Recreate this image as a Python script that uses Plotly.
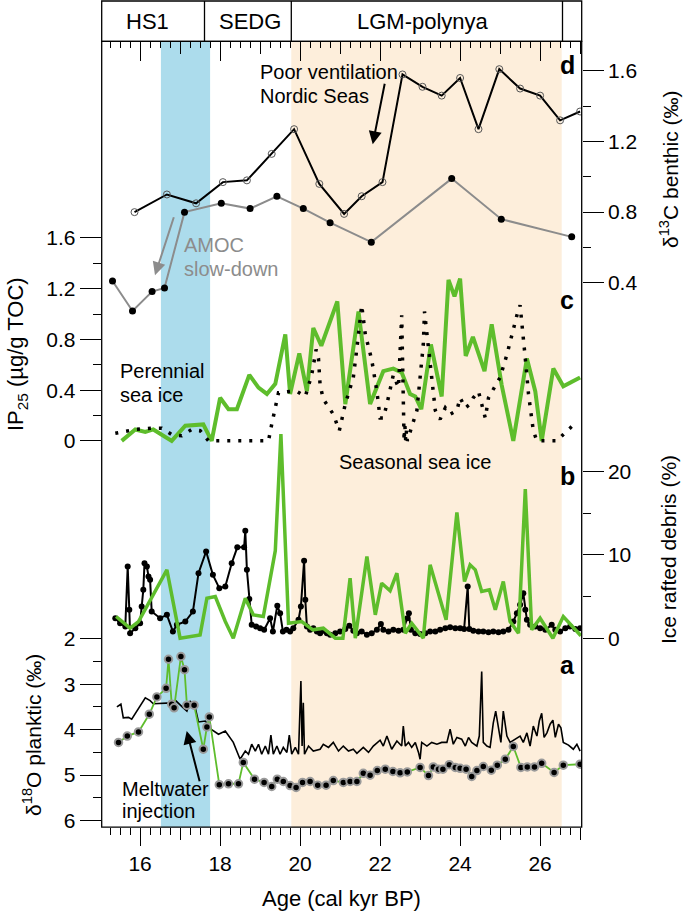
import plotly.graph_objects as go

W, H = 685, 914
FONT = "Liberation Sans, Arial, Helvetica, sans-serif"
GREEN = "#5ebd2c"

def px(x):
    return x / W

def py(y):
    return 1 - y / H

# ---------------- data ----------------
# (d) delta13C benthic, black line with open circles
d13c_age = [15.86, 16.67, 17.40, 18.07, 18.67, 19.29, 19.85, 20.48, 21.10, 21.54, 22.06,
            22.56, 23.06, 23.54, 24.00, 24.46, 24.98, 25.50, 26.00, 26.50, 27.00]
d13c_val = [0.80, 0.90, 0.85, 0.97, 0.98, 1.13, 1.27, 0.96, 0.79, 0.89, 0.97,
            1.58, 1.51, 1.46, 1.56, 1.27, 1.61, 1.50, 1.46, 1.32, 1.37]

# (d) delta13C benthic second record, gray line with filled dots
d13c2_age = [15.31, 15.81, 16.30, 16.61, 17.11, 18.03, 18.75, 19.42, 20.08, 20.75, 21.78,
             23.79, 25.03, 26.79]
d13c2_val = [0.41, 0.24, 0.35, 0.37, 0.80, 0.85, 0.82, 0.89, 0.82, 0.74, 0.63,
             0.99, 0.76, 0.66]

# (c) IP25 green
ip25g_age = [15.54, 15.88, 16.13, 16.33, 16.79, 17.13, 17.58, 17.79, 18.00, 18.21, 18.42,
             18.73, 18.96, 19.17, 19.38, 19.63, 19.75, 19.98, 20.17, 20.33, 20.53, 20.93,
             21.13, 21.46, 21.75, 22.08, 22.33, 22.54, 22.75, 22.88, 23.03, 23.27, 23.54,
             23.71, 23.86, 24.00, 24.14, 24.32, 24.61, 24.79, 25.04, 25.33, 25.67, 25.88,
             26.04, 26.33, 26.58, 27.00]
ip25g_val = [0.00, 0.09, 0.07, 0.09, 0.00, 0.12, 0.13, 0.00, 0.34, 0.25, 0.25,
             0.52, 0.42, 0.37, 0.45, 0.84, 0.37, 0.69, 0.39, 0.89, 0.75, 1.10,
             0.29, 1.02, 0.29, 0.55, 0.57, 0.54, 0.37, 0.35, 0.25, 0.76, 0.35,
             1.27, 1.14, 1.28, 0.67, 0.82, 0.55, 0.92, 0.44, 0.00, 0.65, 0.39,
             0.00, 0.57, 0.43, 0.50]

# (c) IP25 dotted black
ip25d_age = [15.38, 15.88, 16.29, 16.54, 16.79, 17.04, 17.29, 17.50, 17.71, 19.21, 19.29,
             19.38, 19.46, 19.75, 19.92, 20.13, 20.29, 20.40, 20.46, 20.50, 20.58, 20.83,
             20.98, 21.13, 21.33, 21.42, 21.54, 21.63, 21.79, 21.92, 22.00, 22.08, 22.17,
             22.33, 22.46, 22.54, 22.55, 22.56, 22.57, 22.58, 22.60, 22.62, 22.64, 22.66,
             22.68, 22.92, 23.00, 23.08, 23.11, 23.15, 23.21, 23.29, 23.38, 23.50, 23.63,
             23.75, 23.92, 24.00, 24.13, 24.25, 24.33, 24.46, 24.54, 24.63, 24.71, 24.83,
             25.00, 25.17, 25.29, 25.42, 25.50, 25.56, 25.63, 25.71, 25.83, 25.92, 26.42,
             26.58, 26.88]
ip25d_val = [0.06, 0.09, 0.10, 0.10, 0.05, 0.04, 0.09, 0.08, 0.00, 0.00, 0.13,
             0.26, 0.38, 0.39, 0.39, 0.35, 0.52, 0.72, 0.65, 0.44, 0.33, 0.21,
             0.08, 0.29, 0.50, 0.73, 1.07, 0.84, 0.64, 0.39, 0.18, 0.18, 0.29,
             0.52, 0.42, 0.99, 0.75, 0.50, 0.25, 0.05, 0.00, 0.12, 0.00, 0.08,
             0.00, 0.24, 0.50, 0.76, 1.02, 0.89, 0.76, 0.50, 0.24, 0.17, 0.26,
             0.21, 0.24, 0.34, 0.26, 0.29, 0.34, 0.39, 0.29, 0.18, 0.34, 0.41,
             0.50, 0.68, 0.84, 0.99, 1.07, 0.89, 0.65, 0.37, 0.08, 0.00, 0.00,
             0.05, 0.14]

# (b) Ice rafted debris, green
irdg_age = [15.40, 15.75, 15.96, 16.67, 17.00, 17.50, 17.67, 17.88, 18.13, 18.33, 18.63,
            18.83, 19.08, 19.38, 19.52, 19.71, 20.04, 20.32, 20.58, 20.88, 21.07, 21.25,
            21.38, 21.67, 21.88, 22.04, 22.25, 22.42, 22.63, 22.79, 23.08, 23.25, 23.65,
            23.92, 24.11, 24.25, 24.38, 24.54, 24.73, 24.88, 25.08, 25.25, 25.46, 25.63,
            25.79, 26.00, 26.32, 26.58, 27.02]
irdg_val = [2.6, 1.2, 2.0, 8.2, 0.0, 0.4, 4.8, 5.0, 2.0, 0.0, 4.8,
            2.8, 2.6, 10.5, 24.5, 1.8, 2.0, 1.0, 1.2, 0.0, 0.0, 7.2,
            0.0, 9.8, 2.8, 6.6, 5.7, 7.8, 0.6, 1.8, 0.0, 8.8, 2.2,
            15.1, 6.8, 8.8, 8.2, 5.6, 5.8, 3.4, 6.8, 2.0, 0.6, 17.9,
            1.0, 2.4, 0.0, 2.6, 0.3]

# (b) Ice rafted debris, black with dots
irdb_age = [15.38, 15.50, 15.63, 15.69, 15.73, 15.75, 15.88, 16.00, 16.04, 16.08, 16.11,
            16.17, 16.21, 16.25, 16.29, 16.50, 16.67, 16.82, 16.92, 17.13, 17.32, 17.46,
            17.65, 17.82, 17.98, 18.13, 18.29, 18.43, 18.60, 18.63, 18.67, 18.73, 18.79,
            18.90, 19.00, 19.10, 19.25, 19.32, 19.43, 19.50, 19.57, 19.66, 19.75, 19.83,
            19.96, 20.02, 20.10, 20.13, 20.17, 20.25, 20.33, 20.42, 20.50, 20.58, 20.67,
            20.75, 20.88, 21.00, 21.13, 21.23, 21.33, 21.42, 21.54, 21.67, 21.79, 21.92,
            22.02, 22.08, 22.21, 22.33, 22.46, 22.58, 22.68, 22.72, 22.77, 22.88, 23.00,
            23.13, 23.25, 23.38, 23.50, 23.63, 23.75, 23.88, 24.00, 24.10, 24.19, 24.23,
            24.33, 24.46, 24.58, 24.71, 24.83, 24.96, 25.08, 25.21, 25.33, 25.42, 25.50,
            25.58, 25.63, 25.67, 25.75, 25.88, 26.00, 26.13, 26.29, 26.38, 26.50, 26.63,
            26.75, 26.88, 27.00]
irdb_val = [2.4, 1.8, 1.4, 8.6, 3.4, 0.6, 1.2, 1.8, 3.8, 5.8, 9.0,
            8.6, 7.4, 7.0, 3.2, 2.4, 2.8, 0.8, 1.6, 2.0, 3.2, 7.8,
            10.4, 7.6, 6.0, 6.2, 9.0, 10.9, 10.9, 12.9, 8.2, 4.7, 1.6,
            1.4, 1.2, 1.0, 2.4, 0.8, 3.9, 3.0, 0.8, 1.0, 0.8, 1.2,
            2.2, 3.8, 9.3, 4.6, 1.4, 1.0, 1.2, 0.8, 0.6, 0.9, 0.6,
            0.4, 0.6, 0.8, 1.1, 1.5, 0.9, 0.6, 0.8, 0.4, 0.6, 1.0,
            1.7, 1.0, 0.8, 1.0, 0.9, 1.0, 2.4, 3.0, 1.0, 0.6, 0.5,
            0.6, 0.8, 0.8, 1.0, 1.2, 1.3, 1.2, 1.2, 1.1, 6.2, 1.1,
            0.9, 0.8, 0.8, 0.7, 0.8, 0.7, 0.8, 1.0, 2.0, 3.0, 4.0,
            5.4, 3.4, 2.2, 1.6, 1.4, 1.2, 1.0, 1.6, 1.0, 0.8, 1.2,
            1.4, 1.1, 1.2]

# (a) delta18O planktic, black line
d18ob_age = [15.42, 15.52, 15.58, 15.71, 15.79, 15.92, 16.13, 16.25, 16.33, 16.79, 16.90,
             17.08, 17.17, 17.25, 17.38, 17.46, 17.63, 17.79, 17.96, 18.13, 18.33, 18.50,
             18.63, 18.71, 18.79, 18.88, 18.96, 19.04, 19.13, 19.21, 19.27, 19.33, 19.42,
             19.50, 19.58, 19.67, 19.73, 19.79, 19.88, 19.96, 20.02, 20.05, 20.08, 20.11,
             20.21, 20.33, 20.50, 20.58, 20.71, 20.83, 20.96, 21.08, 21.21, 21.33, 21.42,
             21.58, 21.71, 21.83, 22.00, 22.08, 22.17, 22.29, 22.42, 22.54, 22.58, 22.63,
             22.71, 22.79, 22.88, 22.96, 23.00, 23.04, 23.17, 23.29, 23.42, 23.54, 23.67,
             23.75, 23.83, 23.92, 24.04, 24.13, 24.21, 24.29, 24.42, 24.48, 24.54, 24.58,
             24.67, 24.75, 24.83, 24.89, 24.96, 25.02, 25.08, 25.17, 25.25, 25.38, 25.50,
             25.58, 25.67, 25.75, 25.83, 25.92, 25.98, 26.04, 26.10, 26.17, 26.25, 26.32,
             26.38, 26.46, 26.52, 26.58, 26.71, 26.83, 26.92, 27.00]
d18ob_val = [3.50, 3.44, 3.74, 3.73, 3.77, 3.59, 3.30, 3.36, 3.43, 3.41, 3.37,
             3.52, 3.59, 3.37, 3.52, 3.83, 3.81, 4.00, 4.10, 4.03, 4.28, 4.65,
             4.47, 4.54, 4.32, 4.47, 4.32, 4.54, 4.36, 4.54, 4.12, 4.54, 4.36,
             4.54, 4.39, 4.50, 4.12, 4.54, 4.39, 4.54, 2.93, 4.36, 3.41, 4.54,
             4.36, 4.47, 4.43, 4.32, 4.39, 4.28, 4.47, 4.36, 4.47, 4.43, 4.52,
             4.39, 4.50, 4.36, 4.23, 4.36, 4.14, 4.43, 4.25, 4.36, 3.92, 4.36,
             4.28, 4.39, 4.28, 4.50, 4.65, 4.28, 4.36, 4.28, 4.32, 4.28, 4.28,
             3.99, 4.32, 4.17, 4.21, 4.36, 4.17, 4.28, 4.36, 4.14, 2.72, 4.28,
             4.36, 4.39, 3.85, 3.59, 3.99, 4.28, 3.59, 4.14, 4.28, 4.21, 4.14,
             4.28, 4.07, 4.36, 3.92, 4.14, 3.81, 3.64, 4.17, 4.07, 3.88, 3.79,
             4.17, 3.88, 3.96, 4.28, 4.34, 4.43, 4.32, 4.47]

# (a) delta18O planktic, green line with dots
d18og_age = [15.46, 15.68, 15.96, 16.23, 16.42, 16.65, 16.71, 16.79, 16.85, 17.02, 17.11,
             17.17, 17.35, 17.58, 17.67, 17.73, 17.98, 18.21, 18.46, 18.58, 18.86, 19.10,
             19.29, 19.43, 19.58, 19.75, 19.90, 20.06, 20.25, 20.44, 20.65, 20.83, 21.08,
             21.25, 21.42, 21.58, 21.75, 21.93, 22.13, 22.32, 22.50, 22.68, 23.00, 23.21,
             23.33, 23.46, 23.57, 23.73, 23.88, 24.00, 24.15, 24.29, 24.42, 24.58, 24.78,
             24.93, 25.13, 25.33, 25.52, 25.68, 25.86, 26.04, 26.35, 26.58, 27.00]
d18og_val = [4.28, 4.14, 4.05, 3.66, 3.28, 3.09, 2.45, 3.44, 3.52, 2.39, 2.68,
             3.46, 3.46, 4.43, 3.94, 3.72, 5.21, 5.19, 5.19, 4.72, 5.09, 5.16,
             5.25, 5.09, 5.14, 5.23, 5.27, 5.16, 5.14, 5.22, 5.22, 5.12, 5.16,
             5.14, 5.14, 4.96, 5.00, 4.90, 4.87, 4.92, 4.95, 4.93, 4.83, 5.01,
             4.82, 4.87, 4.87, 4.77, 4.83, 4.85, 4.87, 5.03, 4.90, 4.81, 4.89,
             4.78, 4.65, 4.37, 4.83, 4.82, 4.82, 4.74, 4.94, 4.78, 4.76]

# periods / bands
hs1_band = (16.52, 17.75)
lgm_band = (19.78, 26.54)
header_dividers = [17.61, 19.78, 26.56]
header_labels = ["HS1", "SEDG", "LGM-polynya"]
header_centers = [16.19, 18.75, 23.08]

# ---------------- geometry ----------------
PL, PR, PT, PB = 101.7, 581.7, 41.7, 831.7
XR = [15.04, 27.04]
xdom = [px(PL), px(PR)]
ydom = [py(PB), py(PT)]

def yrange(v0, p0, scale):
    # value v0 at pixel p0, scale = pixels per unit (positive up)
    lo = v0 - (PB - p0) / scale
    hi = v0 + (p0 - PT) / scale
    return [lo, hi]

ip25_rng = yrange(0.0, 443.3, 127.5)
d13c_rng = yrange(0.4, 284.3, 177.5)
ird_rng = yrange(0.0, 641.7, 8.38)
# reversed delta18O: 2 at 642.3, 45.7 px per unit downward
d18o_rng = [2 + (PB - 642.3) / 45.7, 2 - (642.3 - PT) / 45.7]

fig = go.Figure()

# panel d
fig.add_trace(go.Scatter(x=d13c2_age, y=d13c2_val, xaxis="x", yaxis="y3", mode="lines+markers",
                         line=dict(color="#8c8c8c", width=2),
                         marker=dict(color="black", size=7), hoverinfo="skip"))
fig.add_trace(go.Scatter(x=d13c_age, y=d13c_val, xaxis="x", yaxis="y3", mode="lines+markers",
                         line=dict(color="black", width=2),
                         marker=dict(symbol="circle-open", color="#555555", size=7,
                                     line=dict(width=1)), hoverinfo="skip"))
# panel c
fig.add_trace(go.Scatter(x=ip25g_age, y=ip25g_val, xaxis="x", yaxis="y", mode="lines",
                         line=dict(color=GREEN, width=4), hoverinfo="skip"))
fig.add_trace(go.Scatter(x=ip25d_age, y=ip25d_val, xaxis="x", yaxis="y", mode="lines",
                         line=dict(color="black", width=3.5, dash="3px,8px"), hoverinfo="skip"))
# panel b
fig.add_trace(go.Scatter(x=irdb_age, y=irdb_val, xaxis="x", yaxis="y4", mode="lines+markers",
                         line=dict(color="black", width=2),
                         marker=dict(color="black", size=6), hoverinfo="skip"))
fig.add_trace(go.Scatter(x=irdg_age, y=irdg_val, xaxis="x", yaxis="y4", mode="lines",
                         line=dict(color=GREEN, width=3.5), hoverinfo="skip"))
# panel a
fig.add_trace(go.Scatter(x=d18ob_age, y=d18ob_val, xaxis="x", yaxis="y2", mode="lines",
                         line=dict(color="black", width=1.6), hoverinfo="skip"))
fig.add_trace(go.Scatter(x=d18og_age, y=d18og_val, xaxis="x", yaxis="y2", mode="lines+markers",
                         line=dict(color=GREEN, width=1.8),
                         marker=dict(color="black", size=7.5, line=dict(color="#9a9a9a", width=2)),
                         hoverinfo="skip"))
# invisible traces so the extra tick axes are drawn
for xa in ["x2", "x3", "x4"]:
    fig.add_trace(go.Scatter(x=d13c_age, y=d13c_val, xaxis=xa, yaxis="y3", mode="lines",
                             opacity=0, line=dict(width=0), hoverinfo="skip"))

tickfont = dict(family=FONT, size=21, color="black")
TW = 1.2

def xax(**kw):
    base = dict(domain=xdom, range=XR, showgrid=False, zeroline=False, showline=False,
                tickcolor="black", tickwidth=TW, tickfont=tickfont, anchor="y")
    base.update(kw)
    return base

def yax(rng, side, vals, minor_vals, **kw):
    base = dict(domain=ydom, range=rng, showgrid=False, zeroline=False, showline=False,
                side=side, anchor="x", tickmode="array", tickvals=vals,
                ticks="outside", ticklen=21, tickwidth=TW, tickcolor="black",
                tickfont=tickfont,
                minor=dict(tickmode="array", tickvals=minor_vals, ticks="outside",
                           ticklen=8, tickwidth=TW, tickcolor="black"))
    base.update(kw)
    return base

even_years = [16, 18, 20, 22, 24, 26]
odd_years = [17, 19, 21, 23, 25, 27]

fig.update_layout(
    width=W, height=H, margin=dict(l=0, r=0, t=0, b=0),
    paper_bgcolor="white", plot_bgcolor="white", showlegend=False,
    font=dict(family=FONT, size=20, color="black"),
    xaxis=xax(tickmode="array", tickvals=even_years, ticks="outside", ticklen=18,
              minor=dict(tick0=15, dtick=0.25, ticks="outside", ticklen=7,
                         tickwidth=TW, tickcolor="black")),
    xaxis2=xax(overlaying="x", side="top", tickmode="array", tickvals=even_years,
               ticks="inside", ticklen=20, showticklabels=False,
               minor=dict(tick0=15, dtick=0.25, ticks="inside", ticklen=7,
                          tickwidth=TW, tickcolor="black")),
    xaxis3=xax(overlaying="x", side="bottom", tickmode="array", tickvals=odd_years,
               ticks="outside", ticklen=12, showticklabels=False),
    xaxis4=xax(overlaying="x", side="top", tickmode="array", tickvals=odd_years,
               ticks="inside", ticklen=13, showticklabels=False),
    yaxis=yax(ip25_rng, "left", [0, 0.4, 0.8, 1.2, 1.6], [0.2, 0.6, 1.0, 1.4]),
    yaxis2=yax(d18o_rng, "left", [2, 3, 4, 5, 6], [2.5, 3.5, 4.5, 5.5], overlaying="y"),
    yaxis3=yax(d13c_rng, "right", [0.4, 0.8, 1.2, 1.6], [0.6, 1.0, 1.4], overlaying="y"),
    yaxis4=yax(ird_rng, "right", [0, 10, 20], [5, 15], overlaying="y"),
)

shapes = []
# bands
shapes.append(dict(type="rect", xref="x", yref="paper", x0=hs1_band[0], x1=hs1_band[1],
                   y0=py(PB), y1=py(PT), fillcolor="#acdcec", line=dict(width=0), layer="below"))
shapes.append(dict(type="rect", xref="x", yref="paper", x0=lgm_band[0], x1=lgm_band[1],
                   y0=py(PB), y1=py(PT), fillcolor="#fdeedb", line=dict(width=0), layer="below"))
# frame
shapes.append(dict(type="rect", xref="paper", yref="paper", x0=px(PL), x1=px(PR),
                   y0=py(PB), y1=py(PT), line=dict(color="black", width=1.3),
                   fillcolor="rgba(0,0,0,0)"))
# header box
shapes.append(dict(type="rect", xref="paper", yref="paper", x0=px(PL), x1=px(PR),
                   y0=py(PT), y1=py(1.0), line=dict(color="black", width=1.3),
                   fillcolor="rgba(0,0,0,0)"))
for d in header_dividers:
    shapes.append(dict(type="line", xref="x", yref="paper", x0=d, x1=d,
                       y0=py(PT), y1=py(1.0), line=dict(color="black", width=1.3)))
fig.update_layout(shapes=shapes)

ann = []

def text(x, y, s, size=20, color="black", xanchor="center", angle=0):
    ann.append(dict(x=px(x), y=py(y), xref="paper", yref="paper", text=s, showarrow=False,
                    xanchor=xanchor, yanchor="middle", textangle=angle,
                    font=dict(family=FONT, size=size, color=color)))

for lab, c in zip(header_labels, header_centers):
    ann.append(dict(x=c, y=py(21.7), xref="x", yref="paper", text=lab, showarrow=False,
                    xanchor="center", yanchor="middle",
                    font=dict(family=FONT, size=22, color="black")))

# panel letters
for letter, yy in [("d", 65), ("c", 301.7), ("b", 478.3), ("a", 668.3)]:
    text(567, yy, "<b>%s</b>" % letter, size=25)

# axis titles
text(17, 356, "IP<sub>25</sub> (µg/g TOC)", size=22, angle=-90)
text(32, 739, "δ<sup>18</sup>O planktic (‰)", size=21, angle=-90)
text(669, 170, "δ<sup>13</sup>C benthic (‰)", size=21, angle=-90)
text(669, 553, "Ice rafted debris (%)", size=21, angle=-90)
text(341.7, 903, "Age (cal kyr BP)", size=22)

# annotations
text(258.3, 72.7, "Poor ventilation", xanchor="left")
text(258.3, 96.7, "Nordic Seas", xanchor="left")
text(181.7, 246.7, "AMOC", color="#8c8c8c", xanchor="left")
text(181.7, 270.7, "slow-down", color="#8c8c8c", xanchor="left")
text(118.3, 372.7, "Perennial", xanchor="left")
text(118.3, 396.7, "sea ice", xanchor="left")
text(414.5, 465, "Seasonal sea ice")
text(120, 793.3, "Meltwater", xanchor="left")
text(120, 815.7, "injection", xanchor="left")

def arrow(tail, head, color="black"):
    ann.append(dict(x=px(head[0]), y=py(head[1]), xref="paper", yref="paper",
                    ax=tail[0] - head[0], ay=tail[1] - head[1], text="", showarrow=True,
                    arrowhead=2, arrowsize=1.3, arrowwidth=2, arrowcolor=color))

arrow((385, 83), (372.7, 145))
arrow((174.3, 217.3), (155, 276.7), color="#8c8c8c")
arrow((200, 786.7), (186.7, 735))

fig.update_layout(annotations=ann)

fig.write_html("out.html", config={"displayModeBar": False},
               post_script="document.body.style.margin='0';document.body.style.overflow='hidden';")
